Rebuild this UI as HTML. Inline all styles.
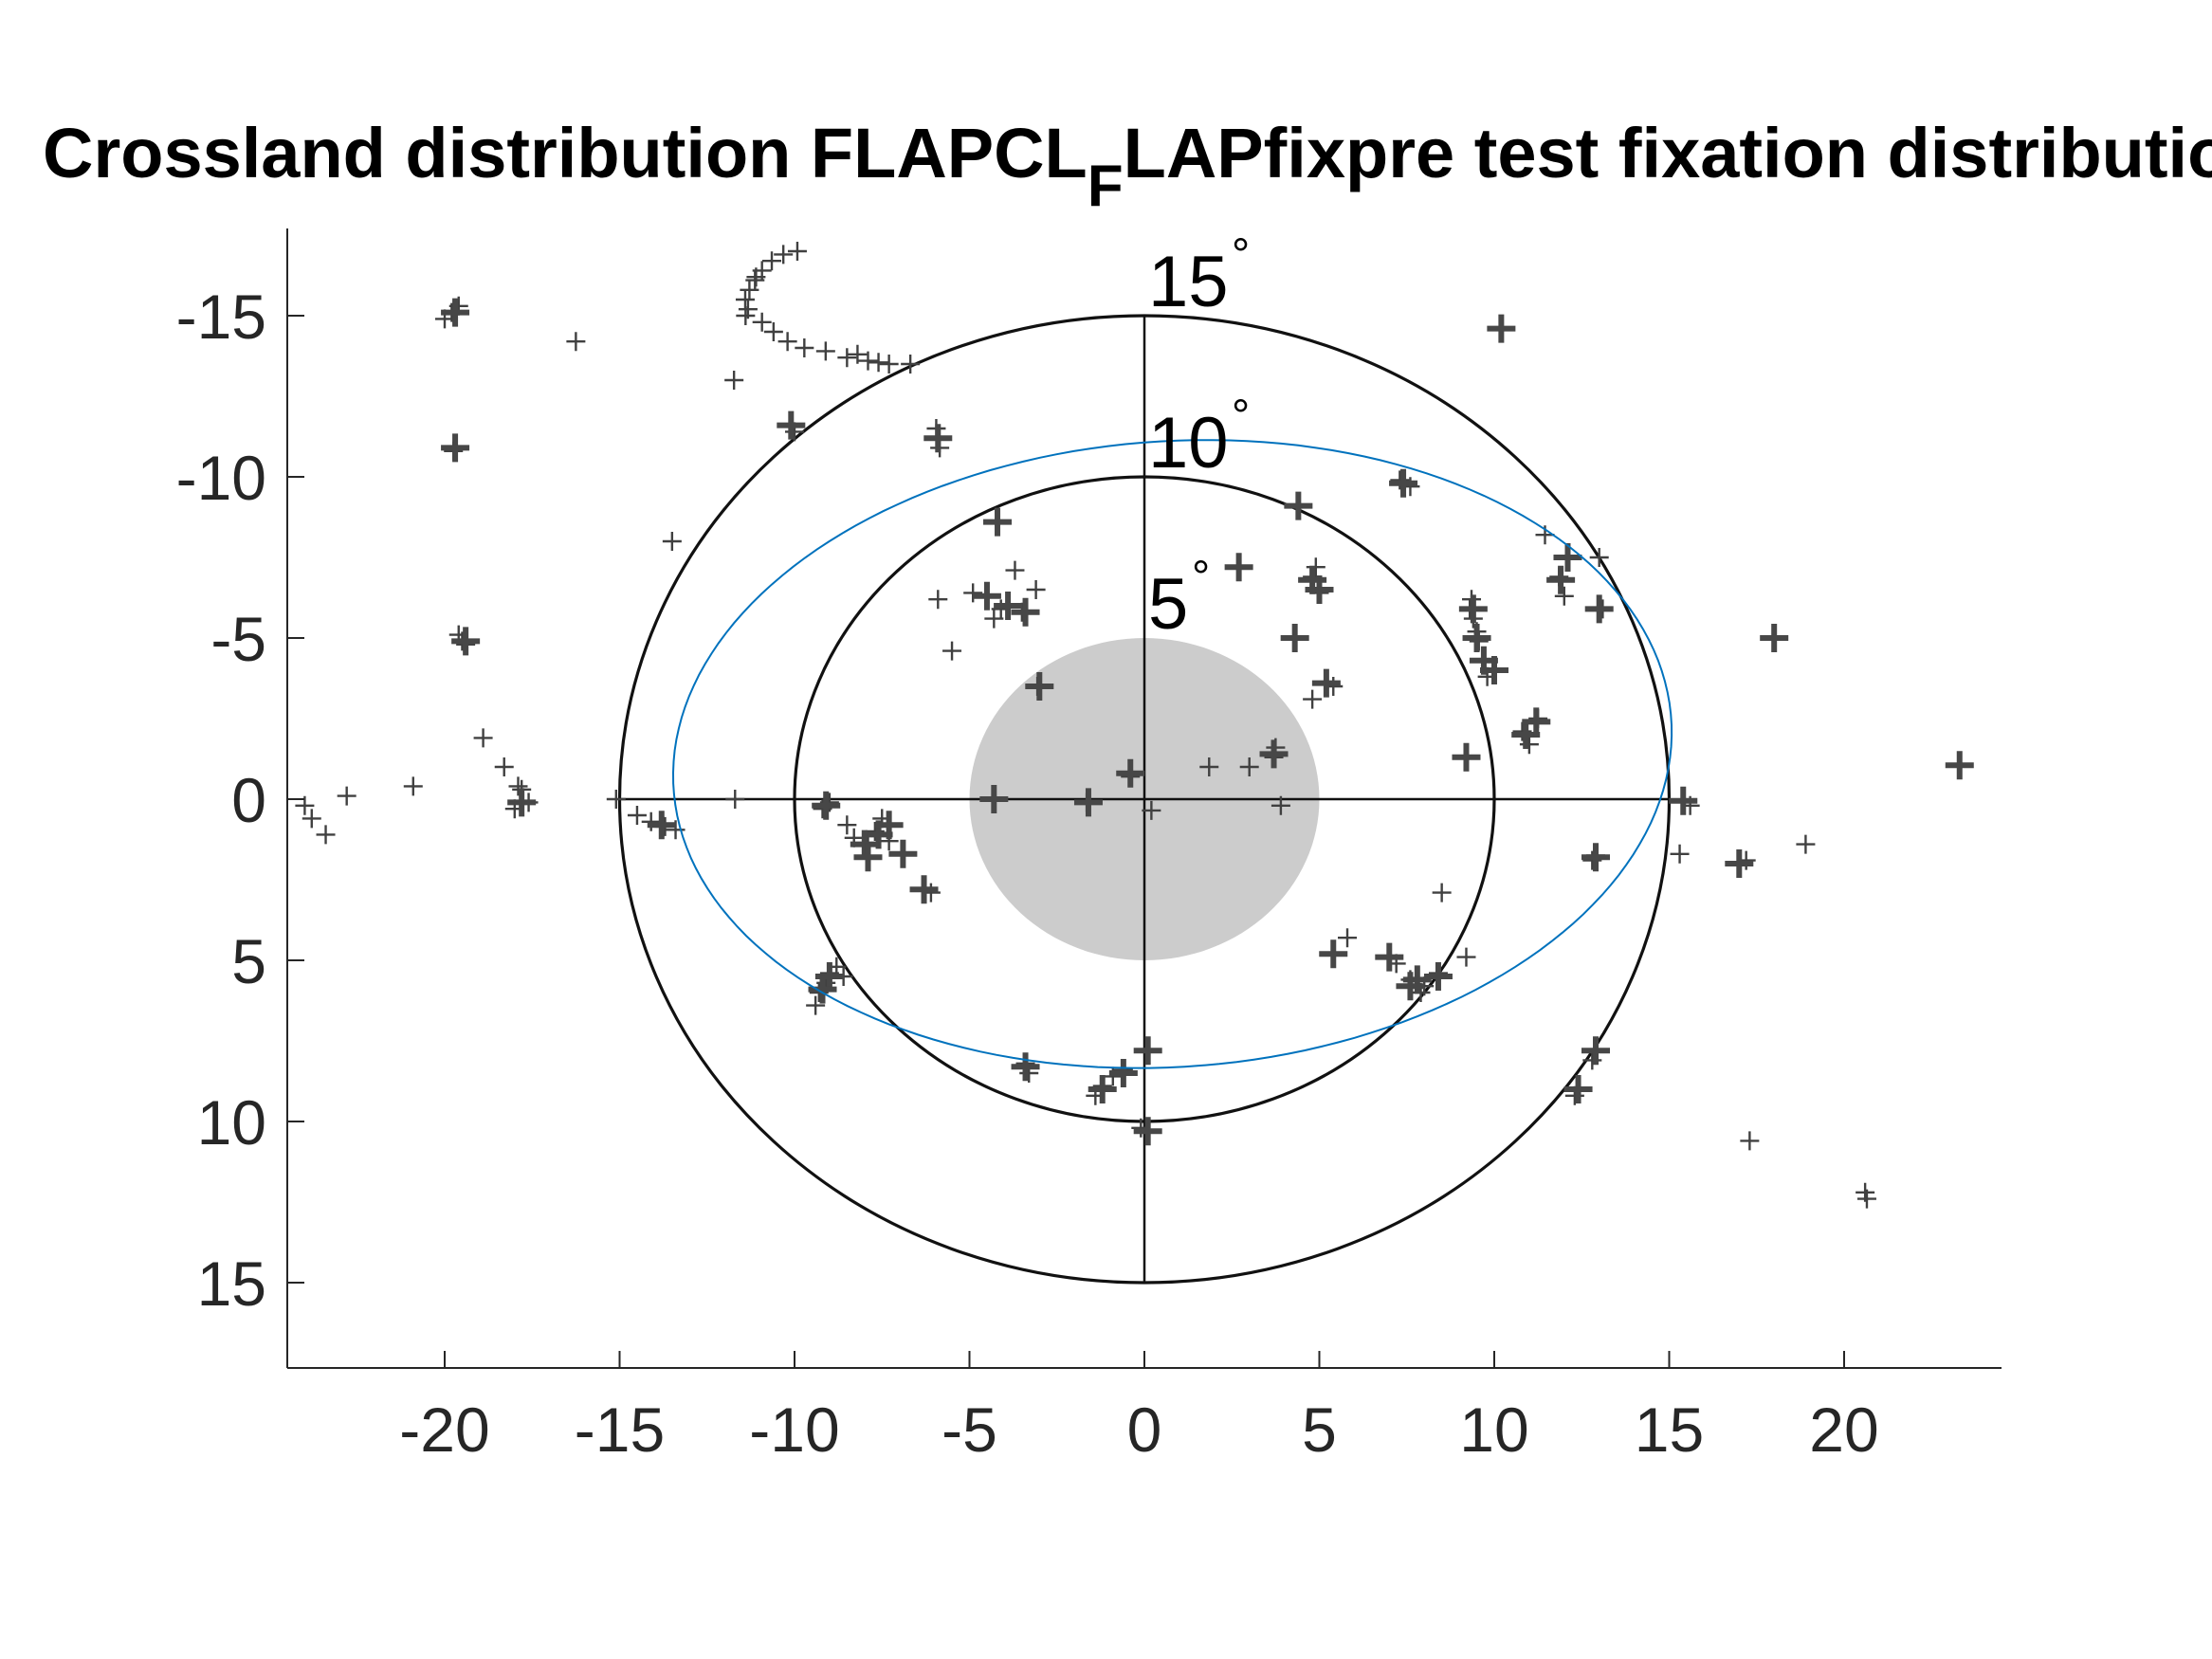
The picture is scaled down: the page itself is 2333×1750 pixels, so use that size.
<!DOCTYPE html>
<html><head><meta charset="utf-8">
<style>
html,body{margin:0;padding:0;background:#fff;}
svg{display:block;font-family:"Liberation Sans",Arial,sans-serif;}
</style></head>
<body>
<svg id="chart" width="2333" height="1750" viewBox="0 0 2333 1750" xmlns="http://www.w3.org/2000/svg">
  <rect width="2333" height="1750" fill="#fff"/>
  <text x="45" y="187" font-size="74" font-weight="bold" fill="#000">Crossland distribution FLAPCL<tspan dy="30" font-size="62">F</tspan><tspan dy="-30">LAPfixpre test fixation distribution</tspan></text>
  <g id="plot"></g>
</svg>
<script>
const xTicks = [-20,-15,-10,-5,0,5,10,15,20];
const yTicks = [-15,-10,-5,0,5,10,15];
const ringRadii = [10,15];
const ringLabels = ["5","10","15"];
const ringLabelRadii = [5,10,15];
const ellipseCenter = [0.8,-1.4];
const ellipseAxes = [14.3,9.7];
const ellipseAngleDeg = -5;
const fixX = [-9.92,-10.32,-10.65,-10.93,-11.13,-11.29,-11.41,-11.33,-10.93,-10.6,-10.2,-9.72,-9.11,-8.5,-7.9,-7.3,-6.69,-11.4,-11.1,-8.2,-7.6,
 -19.8,-19.6,-20.0,-16.25,-11.73,-10.1,-10.0,-19.7,-19.75,-13.5,-5.9,-5.95,-5.85,-19.5,-19.4,-19.6,-18.9,-18.3,-17.8,-17.6,-18.0,-17.9,-20.9,-22.8,-23.8,-23.4,-24.0,
 -14.5,-14.1,-13.7,-13.4,-15.1,-11.7,
 -9.2,-9.0,-8.5,-7.7,-7.5,-7.9,-7.3,-6.9,-6.3,-6.1,-8.0,-8.3,
 -9.0,-9.3,-8.8,-9.1,-8.6,-9.4,
 -3.4,-3.3,-1.2,-1.4,-0.9,-0.6,0.1,-0.1,
 -4.3,-1.65,-0.4,0.2,1.85,3.0,3.7,3.75,3.9,
 -3.06,-5.5,-5.9,-4.9,-3.9,-3.5,-4.3,-3.1,-3.7,-4.1,-4.2,
 2.7,4.4,4.8,5.0,4.9,4.3,5.2,4.8,5.4,
 7.3,7.6,10.2,
 9.35,9.4,9.56,9.7,10.0,9.3,9.5,9.8,
 9.2,10.8,11.25,11.0,
 11.85,12.1,11.45,13.0,13.1,12.0,
 18.0,23.3,15.4,15.6,15.3,17.0,17.2,18.9,12.9,12.8,
 17.3,20.6,20.65,12.9,12.8,12.4,12.3,
 8.5,5.4,5.8,7.0,7.6,8.4,9.2,8.0,7.2,7.9];
const fixY = [-17.0,-16.9,-16.7,-16.4,-16.1,-15.8,-15.5,-15.2,-14.8,-14.5,-14.2,-14.0,-13.9,-13.7,-13.6,-13.5,-13.5,-15.0,-16.2,-13.8,-13.55,
 -15.1,-15.3,-14.9,-14.2,-13.0,-11.6,-11.4,-10.9,-10.8,-8.0,-11.2,-11.5,-10.9,-4.9,-4.8,-5.1,-1.9,-1.0,-0.3,0.1,0.3,-0.4,-0.4,-0.1,0.6,1.1,0.2,
 0.5,0.7,0.85,0.95,0.0,0.0,
 0.3,0.1,0.8,1.0,0.6,1.4,1.3,1.7,2.8,2.9,1.4,1.2,
 5.4,6.0,5.2,5.7,5.5,6.4,
 8.2,8.5,8.9,9.2,8.6,8.4,7.8,10.2,
 0.0,0.1,-0.7,0.35,-1.0,-1.0,-1.3,-1.6,0.2,
 -3.5,-4.6,-6.2,-6.4,-6.0,-5.8,-5.6,-6.5,-7.1,-5.9,-8.6,
 -7.2,-9.1,-6.9,-6.4,-7.2,-5.0,-3.6,-3.1,-3.5,
 -9.9,-9.7,-14.6,
 -6.2,-5.6,-4.9,-4.3,-4.0,-5.9,-5.2,-3.8,
 -1.3,-2.1,-2.5,-1.7,
 -6.9,-7.5,-8.2,-7.5,-5.9,-6.3,
 -5.0,-1.05,0.05,0.2,1.7,2.0,1.9,1.4,1.75,1.9,
 10.6,12.2,12.4,7.8,8.1,9.0,9.2,
 2.9,4.8,4.3,4.9,5.6,5.4,4.9,5.8,5.1,6.0];
const denseX = [-19.7,-19.7,-10.1,-5.9,-19.4,-17.8,-13.8,-9.1,-7.6,-8.0,-6.9,-6.3,-9.0,-9.2,-3.4,-1.2,-0.6,0.1,-4.2,-3.9,-3.4,-4.5,-3.0,-4.3,-1.6,3.7,-0.4,2.7,4.4,4.8,5.0,4.3,5.2,7.4,10.2,9.4,9.5,9.7,10.0,9.2,10.9,11.2,11.9,12.1,13.0,18.0,23.3,15.4,17.0,12.9,12.4,12.9,5.4,7.0,7.8,8.4,7.6,0.1,-7.3,-7.9];
const denseY = [-15.1,-10.9,-11.6,-11.2,-4.9,0.1,0.8,0.2,1.1,1.4,1.7,2.8,5.5,5.9,8.3,9.0,8.5,7.8,-8.6,-6.0,-5.8,-6.3,-3.5,0.0,0.1,-1.4,-0.8,-7.2,-9.1,-6.8,-6.5,-5.0,-3.6,-9.8,-14.6,-5.9,-5.0,-4.3,-4.0,-1.3,-2.0,-2.4,-6.8,-7.5,-5.9,-5.0,-1.05,0.05,2.0,1.8,9.0,7.8,4.8,4.9,5.6,5.5,5.8,10.3,0.8,1.8];

const svg = document.getElementById('plot');
const NS = 'http://www.w3.org/2000/svg';
const X0 = 1207, XS = 36.9, Y0 = 843, YS = 34.0;
const sx = v => X0 + v*XS;
const sy = v => Y0 + v*YS;
function mk(tag, attrs, parent){
  const e = document.createElementNS(NS, tag);
  for (const k in attrs) e.setAttribute(k, attrs[k]);
  (parent||svg).appendChild(e);
  return e;
}
const disc = mk('ellipse',{cx:sx(0),cy:sy(0),rx:5*XS,ry:5*YS,fill:'#cccccc'});


ringRadii.forEach(r=>{
  const c = mk('ellipse',{cx:sx(0),cy:sy(0),rx:r*XS,ry:r*YS,fill:'none',stroke:'#111',"stroke-width":3.2});
  
  
});
const vl = mk('line',{x1:sx(0),y1:sy(-15),x2:sx(0),y2:sy(15),stroke:'#111',"stroke-width":2.5});


const hl = mk('line',{x1:sx(-15),y1:sy(0),x2:sx(15),y2:sy(0),stroke:'#111',"stroke-width":2.5});


const mg = mk('g',{stroke:'#404040',"stroke-width":2.4,fill:'none'});


const h = 10;
for (let i=0;i<fixX.length;i++){
  const px = sx(fixX[i]), py = sy(fixY[i]);
  const p = mk('path',{d:`M${px-h} ${py}H${px+h}M${px} ${py-h}V${py+h}`},mg);
  
  
}
const dg = mk('g',{stroke:'#474747',"stroke-width":6,fill:'none'});


const hd = 15;
for (let i=0;i<denseX.length;i++){
  const px = sx(denseX[i]), py = sy(denseY[i]);
  const p = mk('path',{d:`M${px-hd} ${py}H${px+hd}M${px} ${py-hd}V${py+hd}`},dg);
  
  
}
const a = ellipseAngleDeg*Math.PI/180;
let d = '';
for (let k=0;k<=180;k++){
  const t = k/180*2*Math.PI;
  const ex = ellipseAxes[0]*Math.cos(t), ey = ellipseAxes[1]*Math.sin(t);
  const dx = ellipseCenter[0] + ex*Math.cos(a) - ey*Math.sin(a);
  const dy = ellipseCenter[1] + ex*Math.sin(a) + ey*Math.cos(a);
  d += (k?'L':'M') + sx(dx).toFixed(1) + ' ' + sy(dy).toFixed(1);
}
const be = mk('path',{d:d+'Z',fill:'none',stroke:'#0072BD',"stroke-width":2});


ringLabels.forEach((lab,i)=>{
  const r = ringLabelRadii[i];
  const t = mk('text',{x:sx(0)+4,y:sy(-r)-10,"font-size":76,fill:'#000'});
  t.textContent = lab;
  
  
  const ds = mk('text',{x:sx(0)+4+lab.length*42+4,y:sy(-r)-48,"font-size":48,fill:'#000'});
  ds.textContent = '°';
  
  
});
const L = 303, R = 2111, T = 241, B = 1443;
const ya = mk('line',{x1:L,y1:T,x2:L,y2:B,stroke:'#262626',"stroke-width":2});


const xa = mk('line',{x1:L,y1:B,x2:R,y2:B,stroke:'#262626',"stroke-width":2});


xTicks.forEach(v=>{
  const tk = mk('line',{x1:sx(v),y1:B,x2:sx(v),y2:B-18,stroke:'#262626',"stroke-width":2});
  
  
  const t = mk('text',{x:sx(v),y:B+88,"font-size":66,fill:'#262626',"text-anchor":'middle'});
  t.textContent = v;
  
  
});
yTicks.forEach(v=>{
  const tk = mk('line',{x1:L,y1:sy(v),x2:L+18,y2:sy(v),stroke:'#262626',"stroke-width":2});
  
  
  const t = mk('text',{x:L-22,y:sy(v)+24,"font-size":66,fill:'#262626',"text-anchor":'end'});
  t.textContent = v;
  
  
});
</script>
</body></html>
